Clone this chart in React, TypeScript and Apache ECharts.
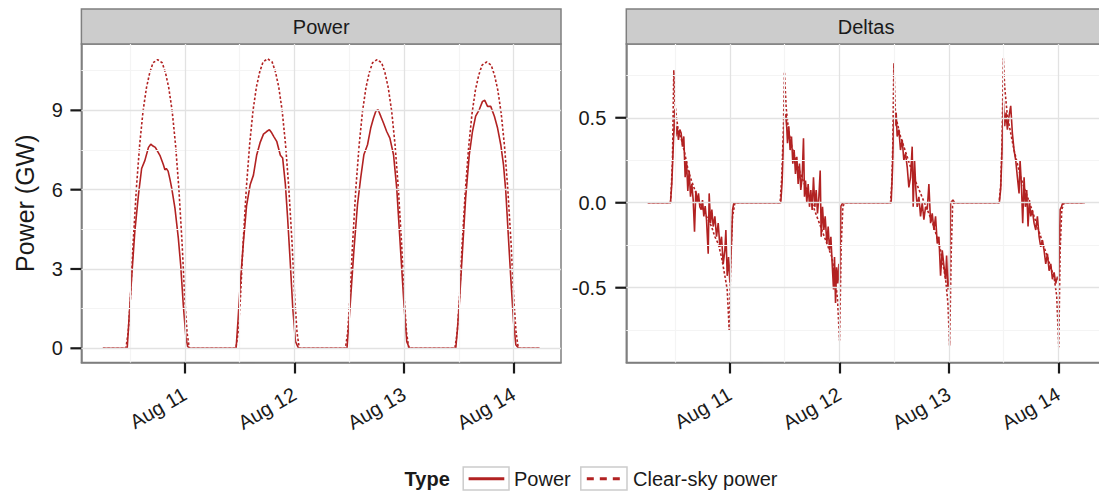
import React, { useEffect, useRef } from "react";
import * as echarts from "echarts";

// ---------- data (hours relative to each day's midnight; day midnights = Aug 11..14 00:00) ----------
const X_TICK_HOURS = [0, 24, 48, 72];
const X_TICK_LABELS = ["Aug 11", "Aug 12", "Aug 13", "Aug 14"];
const X_MINOR_HOURS = [-12, 12, 36, 60];
const DAY_OFFSETS = [0, 24, 48, 72];
const SERIES_START: [number, number] = [-18, 0];
const SERIES_END: [number, number] = [77.75, 0];

const POWER_TICKS = [0, 3, 6, 9];
const POWER_MINOR = [1.5, 4.5, 7.5, 10.5];
const DELTA_TICKS = [-0.5, 0, 0.5];
const DELTA_MINOR = [-0.75, -0.25, 0.25, 0.75];

const PANEL_TITLES = ["Power", "Deltas"];
const Y_TITLE = "Power (GW)";
const LEGEND_TITLE = "Type";
const SERIES_NAMES = ["Power", "Clear-sky power"];

type Pt = [number, number];

// Power (GW)
const powerDay1: Pt[] = [[-12.66,0],[-12.3,1.0],[-11.7,2.65],[-11.0,4.4],[-10.2,5.8],[-9.5,6.8],[-8.8,7.1],[-8.0,7.6],[-7.5,7.72],[-7.0,7.65],[-6.5,7.6],[-6.0,7.45],[-5.5,7.3],[-4.75,6.95],[-4.4,6.75],[-4.1,6.8],[-3.7,6.7],[-3.3,6.4],[-2.9,6.05],[-2.2,5.3],[-1.46,4.17],[-0.95,3.16],[-0.37,1.64],[0.22,0.38],[0.6,0.06],[1.1,0]];
const powerDay2: Pt[] = [[-12.8,0],[-12.4,1.0],[-11.9,2.4],[-11.2,4.0],[-10.5,5.4],[-9.7,6.2],[-9.0,6.55],[-8.3,7.3],[-7.5,7.8],[-6.8,8.1],[-6.1,8.2],[-5.5,8.27],[-5.0,8.15],[-4.5,8.0],[-3.9,7.83],[-3.1,7.3],[-2.6,7.2],[-2.0,6.2],[-1.5,4.9],[-0.95,3.3],[-0.37,1.5],[0.22,0.25],[0.9,0]];
const powerDay3: Pt[] = [[-12.5,0],[-12.1,0.9],[-11.7,1.9],[-11.0,3.66],[-10.2,5.43],[-9.5,6.44],[-8.8,7.32],[-8.0,7.7],[-7.3,8.33],[-6.7,8.7],[-6.2,8.96],[-5.7,9.03],[-5.1,8.78],[-4.5,8.52],[-3.8,8.2],[-3.1,7.95],[-2.3,7.32],[-1.6,6.06],[-1.1,4.67],[-0.6,3.28],[0,1.64],[0.6,0.25],[1.2,0]];
const powerDay4: Pt[] = [[-12.66,0],[-12.3,0.7],[-11.9,1.64],[-11.2,3.66],[-10.5,5.68],[-9.7,7.32],[-9.0,8.2],[-8.3,8.78],[-7.5,9.03],[-6.8,9.34],[-6.3,9.38],[-5.7,9.15],[-5.0,9.15],[-4.2,8.78],[-3.5,8.33],[-2.8,7.7],[-2.2,6.94],[-1.7,5.93],[-1.2,4.42],[-0.6,2.65],[0,1.0],[0.5,0.13],[1.1,0]];

// Clear-sky power (GW)
const clearDay1: Pt[] = [[-12.95,0],[-12.45,0.6],[-11.95,1.9],[-11.39,3.9],[-10.65,6.06],[-9.93,7.7],[-9.2,8.96],[-8.45,9.85],[-7.73,10.42],[-7.0,10.8],[-6.0,10.92],[-5.0,10.8],[-4.27,10.42],[-3.55,9.85],[-2.8,8.96],[-2.07,7.7],[-1.35,6.06],[-0.61,3.9],[-0.05,1.9],[0.45,0.6],[0.95,0]];
const clearDay2: Pt[] = [[-12.85,0],[-12.35,0.6],[-11.85,1.9],[-11.29,3.9],[-10.55,6.07],[-9.83,7.72],[-9.1,8.98],[-8.35,9.88],[-7.63,10.45],[-6.9,10.83],[-5.9,10.95],[-4.9,10.83],[-4.17,10.45],[-3.45,9.88],[-2.7,8.98],[-1.97,7.72],[-1.25,6.07],[-0.51,3.9],[0.05,1.9],[0.55,0.6],[1.05,0]];
const clearDay3: Pt[] = [[-12.85,0],[-12.35,0.6],[-11.85,1.9],[-11.29,3.9],[-10.55,6.06],[-9.83,7.7],[-9.1,8.96],[-8.35,9.85],[-7.63,10.42],[-6.9,10.8],[-5.9,10.92],[-4.9,10.8],[-4.17,10.42],[-3.45,9.85],[-2.7,8.96],[-1.97,7.7],[-1.25,6.06],[-0.51,3.9],[0.05,1.9],[0.55,0.6],[1.05,0]];
const clearDay4: Pt[] = [[-12.85,0],[-12.35,0.6],[-11.85,1.88],[-11.29,3.87],[-10.55,6.0],[-9.83,7.63],[-9.1,8.88],[-8.35,9.77],[-7.63,10.33],[-6.9,10.71],[-5.9,10.83],[-4.9,10.71],[-4.17,10.33],[-3.45,9.77],[-2.7,8.88],[-1.97,7.63],[-1.25,6.0],[-0.51,3.87],[0.05,1.88],[0.55,0.6],[1.05,0]];

// Deltas of Power (GW per step)
const powerDeltaDay1: Pt[] = [[-13.02,0],[-12.73,0.11],[-12.44,0.31],[-12.07,0.55],[-11.85,0.39],[-11.56,0.45],[-11.27,0.37],[-10.97,0.43],[-10.68,0.41],[-10.39,0.33],[-10.1,0.39],[-9.8,0.15],[-9.51,0.25],[-9.22,0.07],[-8.92,0.19],[-8.63,0.035],[-8.34,0.11],[-8.05,0.02],[-7.75,-0.17],[-7.46,0.07],[-7.17,0],[-6.88,0.055],[-6.58,-0.025],[-6.29,-0.04],[-6.0,0.016],[-5.71,-0.08],[-5.41,-0.02],[-5.12,-0.1],[-4.75,-0.3],[-4.54,0.055],[-4.24,-0.12],[-3.95,-0.04],[-3.66,-0.14],[-3.29,-0.08],[-2.93,-0.2],[-2.56,-0.12],[-2.19,-0.26],[-1.83,-0.2],[-1.46,-0.36],[-1.1,-0.28],[-0.88,-0.16],[-0.59,-0.43],[-0.29,-0.32],[0,-0.47],[0.29,-0.28],[0.59,-0.04],[0.88,0]];
const powerDeltaDay2: Pt[] = [[-12.85,0],[-12.56,0.12],[-12.26,0.35],[-11.97,0.51],[-11.67,0.52],[-11.38,0.35],[-11.09,0.45],[-10.8,0.31],[-10.5,0.39],[-10.21,0.23],[-9.92,0.31],[-9.63,0.17],[-9.33,0.27],[-9.04,0.11],[-8.75,0.23],[-8.46,0.075],[-8.16,0.15],[-7.87,0.38],[-7.65,0.035],[-7.43,0.13],[-7.14,0],[-6.85,0.11],[-6.55,-0.024],[-6.26,0.075],[-5.97,-0.043],[-5.68,0.15],[-5.38,-0.024],[-5.09,0.075],[-4.8,-0.063],[-4.5,0.035],[-4.21,0.19],[-3.99,-0.2],[-3.7,-0.024],[-3.41,-0.16],[-3.12,-0.08],[-2.75,-0.24],[-2.46,-0.14],[-2.17,-0.28],[-1.87,-0.2],[-1.58,-0.36],[-1.29,-0.51],[-1.07,-0.32],[-0.85,-0.59],[-0.63,-0.38],[-0.41,-0.475],[-0.12,-0.36],[0.03,-0.475],[0.32,-0.02],[0.76,0]];
const powerDeltaDay3: Pt[] = [[-12.66,0],[-12.36,0.2],[-12.07,0.5],[-11.85,0.45],[-11.56,0.53],[-11.34,0.39],[-10.97,0.43],[-10.61,0.31],[-10.24,0.37],[-9.88,0.25],[-9.51,0.29],[-9.14,0.21],[-8.78,0.09],[-8.41,0.15],[-8.05,0.33],[-7.83,-0.024],[-7.53,0.25],[-7.24,0.075],[-6.95,-0.024],[-6.58,0.035],[-6.22,-0.08],[-5.85,0],[-5.49,-0.1],[-5.12,-0.024],[-4.75,-0.04],[-4.39,0.11],[-4.02,-0.12],[-3.66,-0.063],[-3.29,-0.16],[-2.93,-0.08],[-2.56,-0.24],[-2.19,-0.2],[-1.83,-0.43],[-1.46,-0.28],[-1.1,-0.37],[-0.73,-0.45],[-0.51,-0.31],[-0.22,-0.51],[0.07,-0.47],[0.37,0],[0.88,0.016],[1.24,0]];
const powerDeltaDay4: Pt[] = [[-12.95,0],[-12.66,0.08],[-12.36,0.3],[-12.07,0.6],[-11.78,0.45],[-11.48,0.53],[-11.19,0.43],[-10.83,0.51],[-10.46,0.57],[-10.1,0.41],[-9.73,0.31],[-9.36,0.25],[-9.0,0.15],[-8.63,0.055],[-8.41,0.25],[-8.12,0.11],[-7.83,-0.12],[-7.53,0.15],[-7.24,-0.024],[-6.95,0.075],[-6.66,-0.14],[-6.36,0.016],[-6.07,-0.08],[-5.71,-0.043],[-5.34,-0.12],[-4.97,-0.16],[-4.61,-0.08],[-4.24,-0.2],[-3.88,-0.26],[-3.51,-0.22],[-3.15,-0.28],[-2.78,-0.36],[-2.41,-0.3],[-2.05,-0.4],[-1.68,-0.36],[-1.32,-0.45],[-0.95,-0.41],[-0.59,-0.475],[-0.22,-0.435],[0.07,-0.455],[0.37,-0.04],[0.66,-0.024],[0.95,0]];

// Deltas of Clear-sky power
const clearDeltaDay1: Pt[] = [[-13.02,0],[-12.8,0.11],[-12.58,0.25],[-12.29,0.78],[-12.07,0.6],[-11.7,0.5],[-11.34,0.43],[-10.61,0.37],[-9.88,0.29],[-9.14,0.19],[-8.41,0.13],[-7.68,0.075],[-6.95,0.016],[-6.22,-0.02],[-5.49,-0.06],[-4.75,-0.1],[-4.02,-0.14],[-3.29,-0.2],[-2.56,-0.24],[-1.83,-0.32],[-1.1,-0.43],[-0.59,-0.51],[-0.15,-0.75],[0.22,-0.32],[0.59,-0.08],[1.1,0]];
const clearDeltaDay2: Pt[] = [[-12.99,0],[-12.63,0.15],[-12.26,0.45],[-12.04,0.77],[-11.67,0.56],[-11.16,0.43],[-10.43,0.33],[-9.33,0.23],[-8.24,0.15],[-7.14,0.075],[-6.04,0],[-4.95,-0.08],[-3.85,-0.16],[-2.75,-0.24],[-1.65,-0.32],[-0.92,-0.44],[-0.41,-0.57],[0.03,-0.81],[0.4,-0.25],[0.76,-0.02],[1.27,0]];
const clearDeltaDay3: Pt[] = [[-12.8,0],[-12.51,0.12],[-12.29,0.35],[-12.07,0.82],[-11.7,0.51],[-10.61,0.39],[-9.14,0.27],[-7.68,0.15],[-6.22,0.055],[-4.75,-0.04],[-3.29,-0.14],[-1.83,-0.28],[-0.73,-0.45],[-0.22,-0.59],[0.15,-0.84],[0.51,-0.28],[0.8,-0.02],[1.1,0]];
const clearDeltaDay4: Pt[] = [[-13.02,0],[-12.66,0.1],[-12.36,0.35],[-12.07,0.85],[-11.78,0.68],[-11.19,0.51],[-10.46,0.41],[-9.73,0.31],[-9.0,0.23],[-8.27,0.15],[-7.53,0.09],[-6.8,0.035],[-6.07,-0.02],[-5.34,-0.08],[-4.61,-0.14],[-3.88,-0.2],[-3.15,-0.26],[-2.41,-0.32],[-1.68,-0.38],[-0.95,-0.44],[-0.37,-0.55],[0.07,-0.85],[0.37,-0.28],[0.73,-0.04],[1.24,0]];

const powerDays = [powerDay1, powerDay2, powerDay3, powerDay4];
const clearDays = [clearDay1, clearDay2, clearDay3, clearDay4];
const powerDeltaDays = [powerDeltaDay1, powerDeltaDay2, powerDeltaDay3, powerDeltaDay4];
const clearDeltaDays = [clearDeltaDay1, clearDeltaDay2, clearDeltaDay3, clearDeltaDay4];

function assemble(days: Pt[][]): Pt[] {
  const out: Pt[] = [SERIES_START];
  days.forEach((d, i) => d.forEach(([h, v]) => out.push([h + DAY_OFFSETS[i], v])));
  out.push(SERIES_END);
  return out;
}

// ---------- styling ----------
const RED = "#B22222";
const FONT = "Liberation Sans, Arial, sans-serif";
const TEXT = "#1a1a1a";
const MAJOR = "#E2E2E2";
const MINOR = "#F4F4F4";
const BORDER = "#7F7F7F";
const TICK = "#1a1a1a";

const GRID_TOP = 44;
const GRID_H = 318.5;
const GRID_W = 479.6;
const GRID_LEFTS = [81.4, 626.3];
const X_MIN = -22.7;
const X_MAX = 82.4;
const TICK_LEN = 11;
const TICK_W = 2.2;

function gridLineSeries(idx: number, yMajor: number[], yMinor: number[]) {
  const minorStyle = { color: MINOR, width: 1.2, type: "solid" as const };
  const majorStyle = { color: MAJOR, width: 1.3, type: "solid" as const };
  return {
    type: "line",
    xAxisIndex: idx,
    yAxisIndex: idx,
    data: [SERIES_START],
    showSymbol: false,
    silent: true,
    z: 1,
    lineStyle: { opacity: 0 },
    markLine: {
      silent: true,
      symbol: ["none", "none"],
      label: { show: false },
      animation: false,
      lineStyle: { type: "solid" },
      emphasis: { disabled: true },
      data: [
        ...X_MINOR_HOURS.map((v) => ({ xAxis: v, lineStyle: minorStyle })),
        ...yMinor.map((v) => ({ yAxis: v, lineStyle: minorStyle })),
        ...X_TICK_HOURS.map((v) => ({ xAxis: v, lineStyle: majorStyle })),
        ...yMajor.map((v) => ({ yAxis: v, lineStyle: majorStyle })),
      ],
    },
  };
}

function staticGraphics() {
  const strips = GRID_LEFTS.map((left, i) => ({
    type: "group",
    id: `strip${i}`,
    children: [
      { type: "rect", shape: { x: left, y: 9, width: GRID_W, height: GRID_TOP - 9 }, style: { fill: "#CCCCCC", stroke: BORDER, lineWidth: 1.5 } },
      {
        type: "text",
        x: left + GRID_W / 2,
        y: 27,
        style: { text: PANEL_TITLES[i], font: `20px ${FONT}`, fill: TEXT, align: "center", verticalAlign: "middle", textAlign: "center", textVerticalAlign: "middle" },
      },
    ],
  }));
  const legendY = 478.7;
  const legend = {
    type: "group",
    id: "legend",
    children: [
      { type: "text", x: 404.6, y: legendY, style: { text: LEGEND_TITLE, font: `bold 20px ${FONT}`, fill: TEXT, align: "left", verticalAlign: "middle", textAlign: "left", textVerticalAlign: "middle" } },
      { type: "rect", shape: { x: 463.2, y: 467, width: 45.8, height: 23 }, style: { fill: "#fff", stroke: "#CCCCCC", lineWidth: 1.5 } },
      { type: "line", shape: { x1: 468.6, y1: legendY, x2: 504.3, y2: legendY }, style: { stroke: RED, lineWidth: 3 } },
      { type: "text", x: 514, y: legendY, style: { text: SERIES_NAMES[0], font: `20px ${FONT}`, fill: TEXT, align: "left", verticalAlign: "middle", textAlign: "left", textVerticalAlign: "middle" } },
      { type: "rect", shape: { x: 580.8, y: 467, width: 46.2, height: 23 }, style: { fill: "#fff", stroke: "#CCCCCC", lineWidth: 1.5 } },
      { type: "line", shape: { x1: 586.8, y1: legendY, x2: 621.8, y2: legendY }, style: { stroke: RED, lineWidth: 3, lineDash: [7, 6] } },
      { type: "text", x: 633, y: legendY, style: { text: SERIES_NAMES[1], font: `20px ${FONT}`, fill: TEXT, align: "left", verticalAlign: "middle", textAlign: "left", textVerticalAlign: "middle" } },
    ],
  };
  return [...strips, legend];
}

// y-axis labels carry their own tick mark (a small dark block at the label's right end)
function yLabel(ticks: number[], fmt: (v: number) => string, gap: number) {
  return {
    customValues: ticks,
    margin: 0,
    fontSize: 20,
    fontFamily: FONT,
    color: TEXT,
    formatter: (v: number) => `{v|${fmt(v)}}{g|}{t|}`,
    rich: {
      v: { fontSize: 20, fontFamily: FONT, color: TEXT, lineHeight: 22, verticalAlign: "middle" },
      g: { width: gap, height: 2, lineHeight: 22, verticalAlign: "middle" },
      t: { width: TICK_LEN, height: TICK_W, backgroundColor: TICK, lineHeight: 22, verticalAlign: "middle" },
    },
  };
}

function buildOption() {
  const tickStyle = { color: TICK, width: TICK_W };
  const axisLine = { show: true, onZero: false, lineStyle: { color: BORDER, width: 1.5 } };
  const xAxis = [0, 1].map((i) => ({
    gridIndex: i,
    type: "value",
    position: "bottom",
    min: X_MIN,
    max: X_MAX,
    axisLine,
    splitLine: { show: false },
    axisTick: { show: true, inside: false, customValues: X_TICK_HOURS, length: TICK_LEN, lineStyle: tickStyle },
    axisLabel: {
      customValues: X_TICK_HOURS,
      rotate: 30,
      margin: 30,
      fontSize: 20,
      fontFamily: FONT,
      color: TEXT,
      formatter: (v: number) => {
        const k = X_TICK_HOURS.indexOf(v);
        return k >= 0 ? X_TICK_LABELS[k] : "";
      },
    },
  }));
  const yAxis = [
    {
      gridIndex: 0,
      type: "value",
      position: "left",
      min: -0.537,
      max: 11.51,
      axisLine,
      splitLine: { show: false },
      axisTick: { show: false },
      axisLabel: yLabel(POWER_TICKS, (v) => String(v), 7.5),
      name: Y_TITLE,
      nameLocation: "middle",
      nameGap: 44,
      nameTextStyle: { fontSize: 25, fontFamily: FONT, color: TEXT },
    },
    {
      gridIndex: 1,
      type: "value",
      position: "left",
      min: -0.94,
      max: 0.934,
      axisLine,
      splitLine: { show: false },
      axisTick: { show: false },
      axisLabel: yLabel(DELTA_TICKS, (v) => v.toFixed(1), 9),
    },
  ];
  const solid = { color: RED, width: 1.6, type: "solid" };
  const dotted = { color: RED, width: 1.6, type: [2.5, 2] };
  const series = [
    gridLineSeries(0, POWER_TICKS, POWER_MINOR),
    gridLineSeries(1, DELTA_TICKS, DELTA_MINOR),
    { name: SERIES_NAMES[0], type: "line", xAxisIndex: 0, yAxisIndex: 0, data: assemble(powerDays), showSymbol: false, z: 3, lineStyle: solid, itemStyle: { color: RED } },
    { name: SERIES_NAMES[1], type: "line", xAxisIndex: 0, yAxisIndex: 0, data: assemble(clearDays), showSymbol: false, z: 3, lineStyle: dotted, itemStyle: { color: RED } },
    { name: SERIES_NAMES[0], type: "line", xAxisIndex: 1, yAxisIndex: 1, data: assemble(powerDeltaDays), showSymbol: false, z: 3, lineStyle: solid, itemStyle: { color: RED } },
    { name: SERIES_NAMES[1], type: "line", xAxisIndex: 1, yAxisIndex: 1, data: assemble(clearDeltaDays), showSymbol: false, z: 3, lineStyle: dotted, itemStyle: { color: RED } },
  ];

  return {
    animation: false,
    backgroundColor: "#ffffff",
    textStyle: { fontFamily: FONT },
    grid: GRID_LEFTS.map((left) => ({
      left,
      top: GRID_TOP,
      width: GRID_W,
      height: GRID_H,
      show: true,
      borderColor: BORDER,
      borderWidth: 1.5,
      backgroundColor: "transparent",
      containLabel: false,
    })),
    xAxis,
    yAxis,
    series,
    graphic: staticGraphics(),
  };
}

export default function App() {
  const ref = useRef<HTMLDivElement>(null);
  useEffect(() => {
    if (!ref.current) return;
    const chart = echarts.init(ref.current, undefined, { renderer: "svg" });
    chart.setOption(buildOption() as any);
    return () => chart.dispose();
  }, []);
  return (
    <div style={{ position: "fixed", left: 0, top: 0, width: 1099, height: 493, overflow: "hidden", background: "#fff" }}>
      <div ref={ref} style={{ width: 1110, height: 493 }} />
    </div>
  );
}
